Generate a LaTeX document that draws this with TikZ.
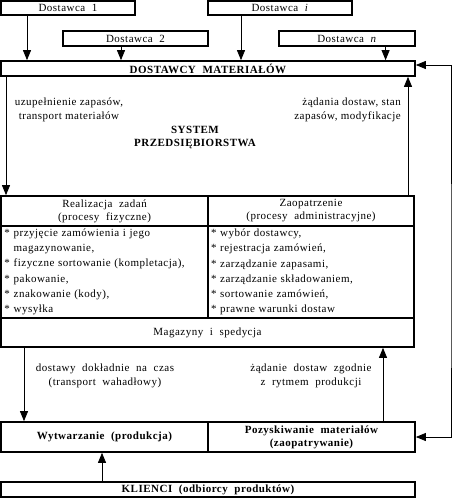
\documentclass[tikz,border=0pt]{standalone}
\usepackage{fontspec}
\setmainfont{Liberation Serif}[LetterSpace=4.5]
\usetikzlibrary{arrows.meta}
\newcommand{\dsp}{\hspace{0.6em}}
\begin{document}
\begin{tikzpicture}[x=1pt,y=-1pt,
  box/.style={draw, line width=1.7pt, inner sep=0pt, font=\fontsize{11}{13}\selectfont, align=center},
  bbox/.style={box, font=\fontsize{11}{13}\selectfont\bfseries},
  arr/.style={-{Triangle[width=8pt,length=10pt]}, line width=0.8pt},
  arrb/.style={{Triangle[width=8pt,length=10pt]}-{Triangle[width=8pt,length=10pt]}, line width=0.8pt},
  lbl/.style={font=\fontsize{11}{14}\selectfont, align=center, inner sep=0pt},
  lst/.style={box, align=left, text width=200pt, font=\fontsize{11}{15.3}\selectfont},
]
\useasboundingbox (0,0) rectangle (468,498);
% suppliers
\node[box, minimum width=134pt, minimum height=14pt] (d1) at (68,8) {Dostawca\dsp 1};
\node[box, minimum width=144pt, minimum height=14pt] (di) at (280,8) {Dostawca\dsp \textit{i}};
\node[box, minimum width=145pt, minimum height=15pt] (d2) at (135.5,38.5) {Dostawca\dsp 2};
\node[box, minimum width=136pt, minimum height=15pt] (dn) at (347,38.5) {Dostawca\dsp \textit{n}};
\node[bbox, minimum width=414pt, minimum height=15pt] (dm) at (208,68.5) {DOSTAWCY\dsp MATERIAŁÓW};
\draw[arr] ([xshift=-41pt]d1.south) -- ([xshift=-41pt]d1.south |- dm.north);
\draw[arr] ([xshift=-14.5pt]d2.south) -- ([xshift=-14.5pt]d2.south |- dm.north);
\draw[arr] ([xshift=-39pt]di.south) -- ([xshift=-39pt]di.south |- dm.north);
\draw[arr] ([xshift=38.6pt]dn.south) -- ([xshift=38.6pt]dn.south |- dm.north);
% enterprise system
\node[lbl] (lup) at (69,110) {uzupełnienie zapasów,\\transport materiałów};
\node[lbl, align=right, anchor=east] (rup) at (401,110) {żądania dostaw, stan\\zapasów, modyfikacje};
\node[lbl, font=\fontsize{11}{13}\selectfont\bfseries] (sys) at (195,138) {SYSTEM\\PRZEDSIĘBIORSTWA};
% table
\node[box, minimum width=207pt, minimum height=30pt] (hl) at (104.5,211) {Realizacja\dsp zadań\\(procesy\dsp fizyczne)};
\node[box, minimum width=206pt, minimum height=30pt] (hr) at (311,211) {Zaopatrzenie\\(procesy\dsp administracyjne)};
\node[lst, minimum width=207pt, minimum height=92pt] (bl) at (104.5,272) {%
* przyjęcie zamówienia i jego\\{}%
\phantom{* }magazynowanie,\\{}%
* fizyczne sortowanie (kompletacja),\\{}%
* pakowanie,\\{}%
* znakowanie (kody),\\{}%
* wysyłka};
\node[lst, minimum width=206pt, minimum height=92pt] (br) at (311,272) {%
* wybór dostawcy,\\{}%
* rejestracja zamówień,\\{}%
* zarządzanie zapasami,\\{}%
* zarządzanie składowaniem,\\{}%
* sortowanie zamówień,\\{}%
* prawne warunki dostaw};
\node[box, minimum width=413pt, minimum height=29pt] (mag) at (207.5,332.5) {Magazyny\dsp i\dsp spedycja};
\draw[arr] (dm.south -| 6,0) -- (hl.north -| 6,0);
\draw[arr] (hr.north -| 408,0) -- (dm.south -| 408,0);
% lower part
\node[lbl] (ldn) at (105,376) {dostawy\dsp dokładnie\dsp na\dsp czas\\(transport\dsp wahadłowy)};
\node[lbl] (rdn) at (311,376) {żądanie\dsp dostaw\dsp zgodnie\\z\dsp rytmem\dsp produkcji};
\node[bbox, minimum width=207pt, minimum height=30pt] (wyt) at (104.5,437) {Wytwarzanie\dsp (produkcja)};
\node[bbox, minimum width=207pt, minimum height=30pt] (poz) at (311.5,437) {Pozyskiwanie\dsp materiałów\\(zaopatrywanie)};
\node[bbox, minimum width=414pt, minimum height=15pt] (kl) at (208,489.5) {KLIENCI\dsp (odbiorcy\dsp produktów)};
\draw[arr] (mag.south -| 24,0) -- (wyt.north -| 24,0);
\draw[arr] (poz.north -| 383,0) -- (mag.south -| 383,0);
\draw[arr] (kl.north -| 102,0) -- (wyt.south -| 102,0);
\draw[arrb] ([yshift=3.5pt]dm.east) -| (451,300) |- (poz.east);
\end{tikzpicture}
\end{document}
